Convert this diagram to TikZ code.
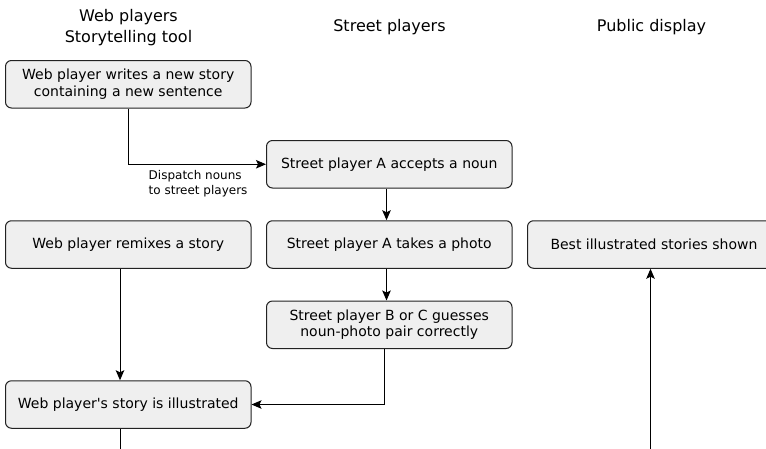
\documentclass[tikz,border=0pt]{standalone}
\usepackage{fontspec}
\setmainfont{DejaVu Sans}
\usetikzlibrary{arrows.meta}
\definecolor{boxfill}{HTML}{EFEFEF}
\definecolor{boxline}{HTML}{222222}
\tikzset{
  stepbox/.style={draw=boxline, fill=boxfill, line width=1pt, rounded corners=6pt,
    minimum width=245.5pt, minimum height=47.5pt, inner sep=0pt, align=center,
    font=\fontsize{14}{16.5}\selectfont},
  header/.style={align=center, font=\fontsize{16}{20.5}\selectfont},
  lbl/.style={align=left, inner sep=0pt, font=\fontsize{12}{15}\selectfont},
  conn/.style={draw=black, line width=1pt},
  arr/.style={conn, -{Stealth[length=10pt, width=8.5pt, inset=2pt]}}
}
\begin{document}
\begin{tikzpicture}[x=1pt, y=-1pt]
\clip (0,0) rectangle (766,448);
\fill[white] (0,0) rectangle (766,448);
% headers
\node[header] (h1) at (128.5,27.5) {Web players\\Storytelling tool};
\node[header] (h2) at (389.5,27) {Street players};
\node[header] (h3) at (651.5,27) {Public display};
% boxes
\node[stepbox] (b1) at (128.25,84.25) {Web player writes a new story\\containing a new sentence};
\node[stepbox] (b2) at (389.25,164.25) {Street player A accepts a noun};
\node[stepbox] (b3) at (128.25,244.5) {Web player remixes a story};
\node[stepbox] (b4) at (389.25,244.5) {Street player A takes a photo};
\node[stepbox, minimum width=253pt] (b5) at (654,244.5) {Best illustrated stories shown};
\node[stepbox] (b6) at (389.25,324.75) {Street player B or C guesses\\noun-photo pair correctly};
\node[stepbox] (b7) at (128.25,404.5) {Web player\textquotesingle s story is illustrated};
% free ends
\coordinate (e1) at (120,452);
\coordinate (e2) at (650.5,452);
% connectors
\draw[arr] ([xshift=0.5pt]b1.south) |- (b2.west);
\node[lbl, anchor=west] (l1) at (148.5,183.5) {Dispatch nouns\\to street players};
\draw[arr] ([xshift=-2.75pt]b2.south) -- ([xshift=-2.75pt]b4.north);
\draw[arr] ([xshift=-2.75pt]b4.south) -- ([xshift=-2.75pt]b6.north);
\draw[arr] ([xshift=-8.25pt]b3.south) -- ([xshift=-8.25pt]b7.north);
\draw[arr] ([xshift=-5pt]b6.south) |- (b7.east);
\draw[conn] ([xshift=-8.25pt]b7.south) -- (e1);
\draw[arr] (e2) -- (e2 |- b5.south);
\end{tikzpicture}
\end{document}
